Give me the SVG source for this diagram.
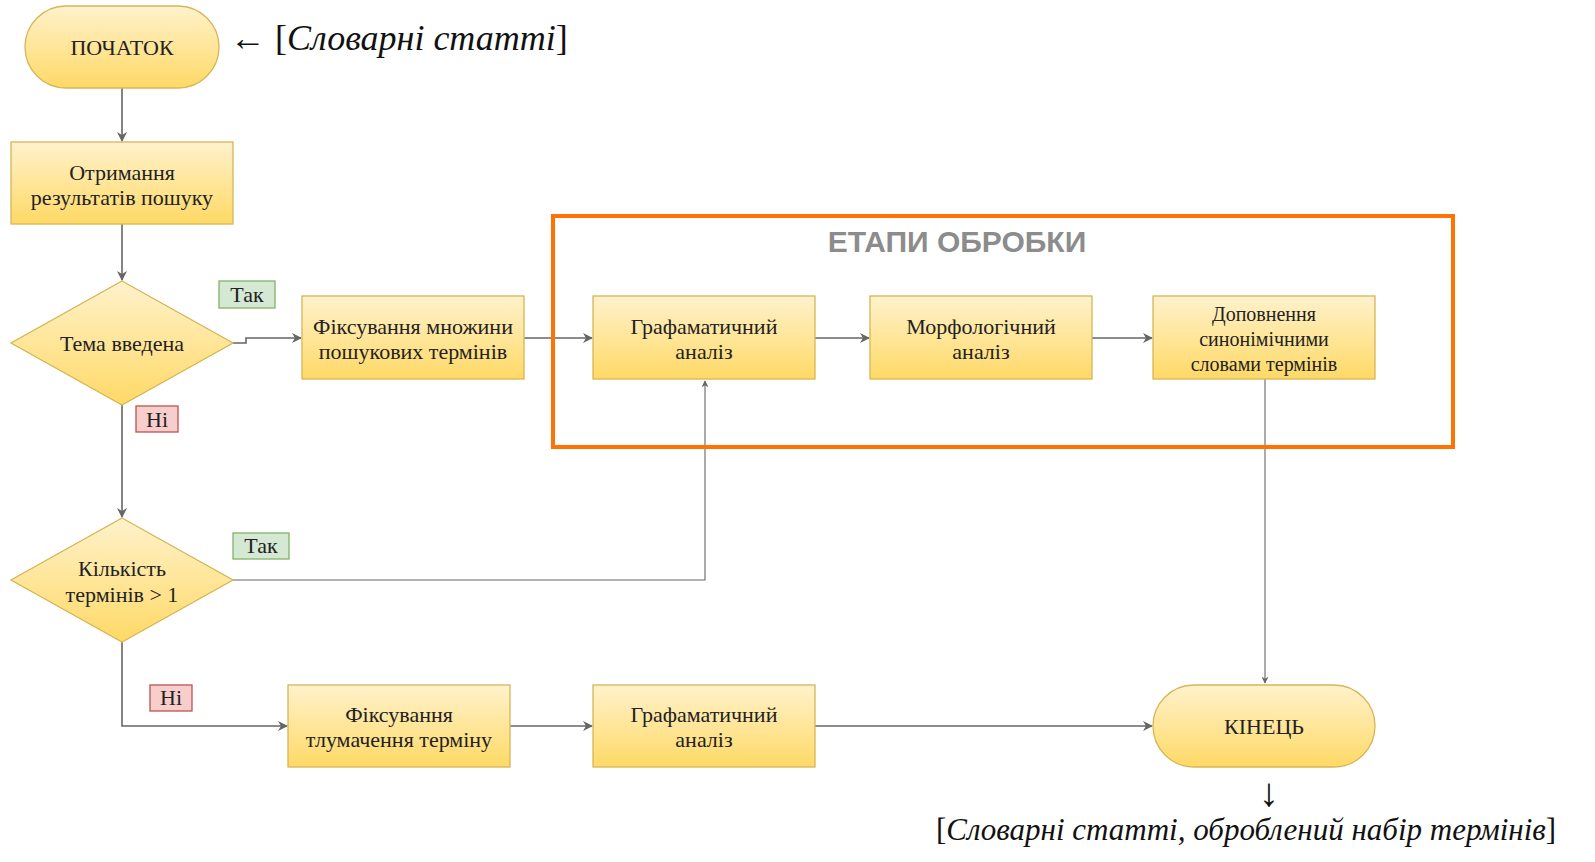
<svg xmlns="http://www.w3.org/2000/svg" width="1595" height="862" viewBox="0 0 1595 862">
<defs>
<linearGradient id="g" x1="0" y1="0" x2="0" y2="1">
<stop offset="0" stop-color="#fff2cc"/>
<stop offset="1" stop-color="#ffd966"/>
</linearGradient>
<marker id="a" viewBox="0 0 10 10" refX="9" refY="5" markerWidth="7" markerHeight="7" markerUnits="userSpaceOnUse" orient="auto">
<path d="M0,0 L10,5 L0,10 L3,5 Z" fill="#666"/>
</marker>
<marker id="b" viewBox="0 0 10 10" refX="9" refY="5" markerWidth="10" markerHeight="10" markerUnits="userSpaceOnUse" orient="auto">
<path d="M0,0 L10,5 L0,10 L3,5 Z" fill="#666"/>
</marker>
</defs>
<style>
.n{fill:url(#g);stroke:#d6b656;stroke-width:1.3}
.t{font-family:"Liberation Serif","DejaVu Serif",serif;font-size:22px;fill:#222;text-anchor:middle}
.s{font-size:20px}
.c{fill:none;stroke:#666;stroke-width:1.6;marker-end:url(#b)}
.c1{fill:none;stroke:#666;stroke-width:1.1;marker-end:url(#a)}
.yes{fill:#d5e8d4;stroke:#82b366;stroke-width:1.3}
.no{fill:#f8cecc;stroke:#b85450;stroke-width:1.3}
.big{font-family:"Liberation Serif","DejaVu Serif",serif;font-size:36px;fill:#111}
.note2{font-size:31px;text-anchor:middle}
.down{font-size:40px;text-anchor:middle}
</style>
<rect width="1595" height="862" fill="#fff"/>
<g id="connectors">
<path class="c" d="M122,88 V141"/>
<path class="c" d="M122,224 V280"/>
<path class="c" d="M233,343 H246 V338 H301"/>
<path class="c" d="M524,338 H592"/>
<path class="c" d="M815,338 H869"/>
<path class="c" d="M1092,338 H1152"/>
<path class="c1" d="M1265,379 V683"/>
<path class="c" d="M122,405 V517"/>
<path class="c1" d="M233,580 H705 V381"/>
<path class="c" d="M122,642 V726 H287"/>
<path class="c" d="M510,726 H592"/>
<path class="c" d="M815,726 H1152"/>
</g>
<g id="group-etapy">
<rect x="553" y="216" width="900" height="231" fill="none" stroke="#ff7300" stroke-width="4"/>
<text x="957" y="252" text-anchor="middle" font-family="Liberation Sans,Arial,sans-serif" font-weight="bold" font-size="30" fill="#8c8c8c">ЕТАПИ ОБРОБКИ</text>
</g>
<g id="start">
<rect class="n" x="25" y="6" width="194" height="82" rx="41"/>
<text class="t" x="122" y="55">ПОЧАТОК</text>
</g>
<g id="start-note">
<text class="big" x="230" y="50">← [<tspan font-style="italic">Словарні статті</tspan>]</text>
</g>
<g id="n1">
<rect class="n" x="11" y="142" width="222" height="82"/>
<text class="t" x="122" y="180">Отримання</text>
<text class="t" x="122" y="205">результатів пошуку</text>
</g>
<g id="d1">
<polygon class="n" points="122,281 233,343 122,405 11,343"/>
<text class="t" x="122" y="351">Тема введена</text>
</g>
<g id="lbl-yes1">
<rect class="yes" x="219" y="281" width="56" height="27"/>
<text class="t" x="247" y="302">Так</text>
</g>
<g id="lbl-no1">
<rect class="no" x="136" y="406" width="42" height="26"/>
<text class="t" x="157" y="427">Ні</text>
</g>
<g id="n2">
<rect class="n" x="302" y="296" width="222" height="83"/>
<text class="t" x="413" y="334">Фіксування множини</text>
<text class="t" x="413" y="359">пошукових термінів</text>
</g>
<g id="n3">
<rect class="n" x="593" y="296" width="222" height="83"/>
<text class="t" x="704" y="334">Графаматичний</text>
<text class="t" x="704" y="359">аналіз</text>
</g>
<g id="n4">
<rect class="n" x="870" y="296" width="222" height="83"/>
<text class="t" x="981" y="334">Морфологічний</text>
<text class="t" x="981" y="359">аналіз</text>
</g>
<g id="n5">
<rect class="n" x="1153" y="296" width="222" height="83"/>
<text class="t s" x="1264" y="321">Доповнення</text>
<text class="t s" x="1264" y="346">синонімічними</text>
<text class="t s" x="1264" y="371">словами термінів</text>
</g>
<g id="d2">
<polygon class="n" points="122,518 233,580 122,642 11,580"/>
<text class="t" x="122" y="576">Кількість</text>
<text class="t" x="122" y="602">термінів &gt; 1</text>
</g>
<g id="lbl-yes2">
<rect class="yes" x="233" y="533" width="56" height="26"/>
<text class="t" x="261" y="553">Так</text>
</g>
<g id="lbl-no2">
<rect class="no" x="150" y="685" width="42" height="26"/>
<text class="t" x="171" y="705">Ні</text>
</g>
<g id="n6">
<rect class="n" x="288" y="685" width="222" height="82"/>
<text class="t" x="399" y="722">Фіксування</text>
<text class="t" x="399" y="747">тлумачення терміну</text>
</g>
<g id="n7">
<rect class="n" x="593" y="685" width="222" height="82"/>
<text class="t" x="704" y="722">Графаматичний</text>
<text class="t" x="704" y="747">аналіз</text>
</g>
<g id="end">
<rect class="n" x="1153" y="685" width="222" height="82" rx="41"/>
<text class="t" x="1264" y="734">КІНЕЦЬ</text>
</g>
<g id="end-note">
<text class="big down" x="1269" y="806">↓</text>
<text class="big note2" x="1246" y="840">[<tspan font-style="italic">Словарні статті, оброблений набір термінів</tspan>]</text>
</g>
</svg>
